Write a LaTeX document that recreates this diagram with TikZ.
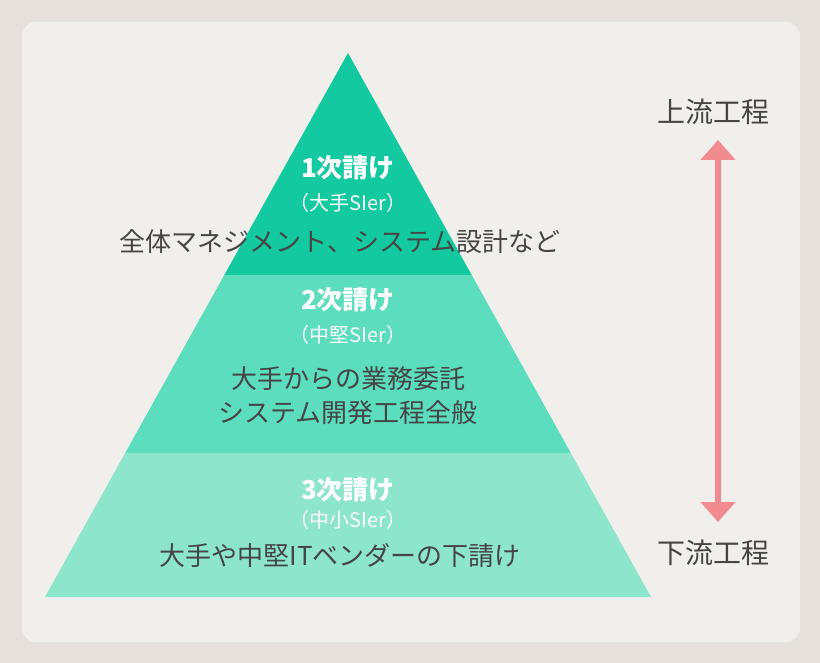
\documentclass[tikz,border=0pt]{standalone}
\usepackage{fontspec}
\setmainfont{Noto Sans CJK JP}
\usetikzlibrary{positioning, arrows.meta}
\definecolor{outerbg}{HTML}{E6E1DC}
\definecolor{innerbg}{HTML}{F1EFEB}
\definecolor{tierA}{HTML}{12C9A0}
\definecolor{tierB}{HTML}{5CDDBD}
\definecolor{tierC}{HTML}{8DE5CC}
\definecolor{darktext}{HTML}{454545}
\definecolor{flowpink}{HTML}{F28B8F}
\tikzset{
x=1pt, y=-1pt, % one unit is one pixel of the reference
title/.style={text=white, font=\fontsize{26}{28}\selectfont\bfseries}, % tier heading
sub/.style={text=white, font=\fontsize{20}{22}\selectfont}, % company class
body/.style={text=darktext, font=\fontsize{26}{34}\selectfont, align=center}, % role text
flow/.style={text=darktext, font=\fontsize{28}{30}\selectfont}, % side labels
}
\begin{document}
\begin{tikzpicture}
    \fill[outerbg] (0,0) rectangle (820,663);
    \fill[innerbg, rounded corners=14pt] (22,22) rectangle (800,642);

    \fill[tierA] (348,53) -- (224.3,275) -- (471.7,275) -- cycle;
    \fill[tierB] (224.3,275) -- (125.2,453) -- (570.8,453) -- (471.7,275) -- cycle;
    \fill[tierC] (125.2,453) -- (45,597) -- (651,597) -- (570.8,453) -- cycle;

    \node[title] (t1) at (348,168) {1次請け};
    \node[sub] (s1) at (348,203) {（大手SIer）};
    \node[body] (b1) at (340,242) {全体マネジメント、システム設計など};

    \node[title] (t2) at (348,300) {2次請け};
    \node[sub] (s2) at (348,335) {（中堅SIer）};
    \node[body] (b2) at (348,396) {大手からの業務委託\\システム開発工程全般};

    \node[title] (t3) at (348,490) {3次請け};
    \node[sub] (s3) at (348,520) {（中小SIer）};
    \node[body] (b3) at (340,556) {大手や中堅ITベンダーの下請け};

    \node[flow] (up) at (713,112) {上流工程};
    \node[flow] (down) at (713,553) {下流工程};
    \coordinate (top) at (718,140);
    \coordinate (bot) at (718,522);

    \draw[flowpink, line width=6pt, {Triangle[length=20pt,width=34pt]}-{Triangle[length=20pt,width=34pt]}] (top) -- (bot);
\end{tikzpicture}
\end{document}
